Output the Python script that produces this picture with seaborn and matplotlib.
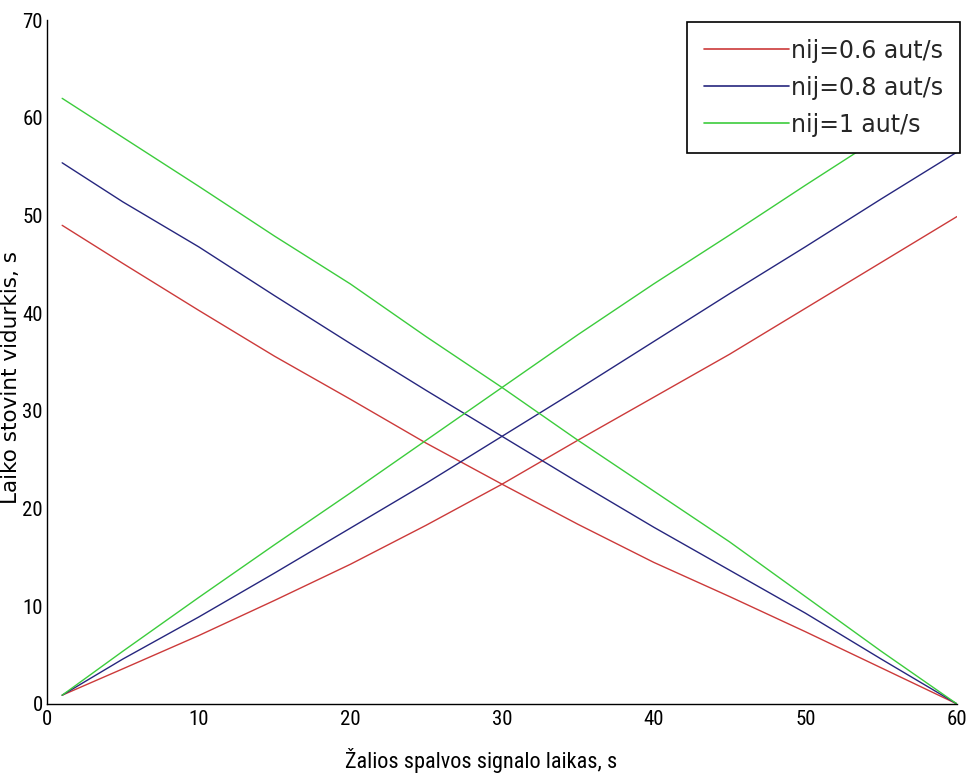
import numpy as np
import pandas as pd
import matplotlib
matplotlib.use("Agg")
import matplotlib.pyplot as plt
from matplotlib import font_manager
import seaborn as sns

# ---- data ----
x_vals = [1, 5, 10, 15, 20, 25, 30, 35, 40, 45, 50, 55, 60]

red_up = [0.9, 3.6, 7.0, 10.6, 14.3, 18.3, 22.5, 27.0, 31.4, 35.8, 40.5, 45.2, 49.9]
blue_up = [0.9, 4.6, 8.9, 13.4, 18.0, 22.6, 27.4, 32.2, 37.1, 42.0, 46.8, 51.7, 56.5]
green_up = [0.9, 5.4, 10.9, 16.3, 21.6, 27.0, 32.4, 37.8, 43.0, 48.0, 53.1, 58.1, 63.2]

red_down = [49.0, 45.1, 40.3, 35.6, 31.2, 26.7, 22.5, 18.4, 14.5, 11.0, 7.4, 3.7, 0.0]
blue_down = [55.4, 51.4, 46.8, 41.8, 36.9, 32.1, 27.4, 22.7, 18.1, 13.7, 9.3, 4.6, 0.0]
green_down = [62.0, 58.0, 53.0, 47.9, 43.0, 37.6, 32.4, 27.0, 21.8, 16.6, 11.0, 5.4, 0.0]

series_labels = ["nij=0.6 aut/s", "nij=0.8 aut/s", "nij=1 aut/s"]
x_ticks = [0, 10, 20, 30, 40, 50, 60]
y_ticks = [0, 10, 20, 30, 40, 50, 60, 70]
x_label = "Žalios spalvos signalo laikas, s"
y_label = "Laiko stovint vidurkis, s"

# ---- build long table ----
rows = []
for lab, up, down in zip(series_labels,
                         [red_up, blue_up, green_up],
                         [red_down, blue_down, green_down]):
    for xv, yv in zip(x_vals, up):
        rows.append({"x": xv, "y": yv, "series": lab, "dir": "up"})
    for xv, yv in zip(x_vals, down):
        rows.append({"x": xv, "y": yv, "series": lab, "dir": "down"})
df = pd.DataFrame(rows)


def font_available(name):
    try:
        path = font_manager.findfont(font_manager.FontProperties(family=name),
                                     fallback_to_default=False)
        return path is not None
    except Exception:
        return False


narrow = None
for cand in ["Liberation Sans Narrow", "DejaVu Sans Condensed", "Roboto Condensed"]:
    if font_available(cand):
        narrow = cand
        break

sns.set_theme(style="white")
plt.rcParams["font.family"] = ["Liberation Sans", "DejaVu Sans"]

if narrow:
    tick_family = [narrow, "Liberation Sans", "DejaVu Sans"]
    tick_size = 15
    xlab_size = 16
else:
    tick_family = ["Liberation Sans", "DejaVu Sans"]
    tick_size = 13
    xlab_size = 14

palette = {series_labels[0]: "#cc3a3a",
           series_labels[1]: "#26267e",
           series_labels[2]: "#3ccc3c"}

fig = plt.figure(figsize=(9.73, 7.76), dpi=100)
ax = fig.add_axes([0.0483, 0.0928, 0.9353, 0.8812])

sns.lineplot(data=df, x="x", y="y", hue="series", units="dir",
             estimator=None, palette=palette, hue_order=series_labels,
             linewidth=1.0, ax=ax, sort=False)

ax.set_xlim(0, 60)
ax.set_ylim(0, 70)
ax.set_xticks(x_ticks)
ax.set_yticks(y_ticks)
ax.tick_params(direction="in", length=8, width=1.0, colors="black",
               labelsize=tick_size)
ax.tick_params(axis="x", pad=4)
ax.tick_params(axis="y", pad=3)
for lbl in ax.get_xticklabels() + ax.get_yticklabels():
    lbl.set_family(tick_family)

for side in ["top", "right"]:
    ax.spines[side].set_visible(False)
for side in ["left", "bottom"]:
    ax.spines[side].set_color("black")
    ax.spines[side].set_linewidth(1.0)

ax.set_xlabel(x_label, fontsize=xlab_size, color="black", family=tick_family)
ax.xaxis.set_label_coords(0.477, -0.064)
ax.set_ylabel(y_label, fontsize=15.5, color="black", family=["DejaVu Sans"])
ax.yaxis.set_label_coords(-0.0285, 0.478)

leg = ax.legend(loc="upper right", bbox_to_anchor=(1.003, 0.997),
                borderaxespad=0.0, prop={"family": "DejaVu Sans", "size": 17},
                frameon=True, fancybox=False, framealpha=1, edgecolor="black",
                handlelength=3.6, handletextpad=0.1, labelspacing=0.55,
                borderpad=0.7)
leg.get_frame().set_linewidth(1.2)
for line in leg.get_lines():
    line.set_linewidth(1.2)

fig.savefig("out.png", dpi=100, facecolor="white")
